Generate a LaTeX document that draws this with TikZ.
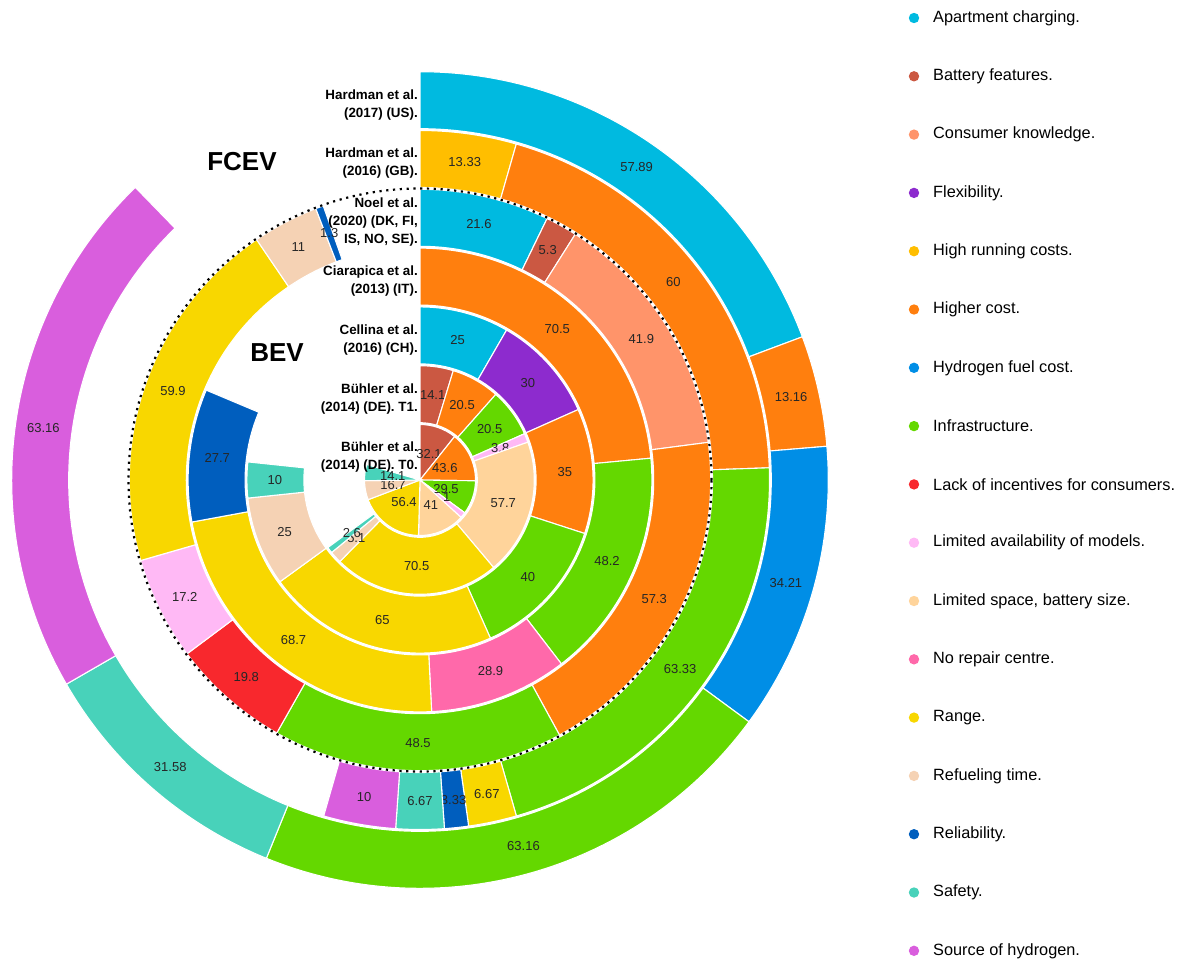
\documentclass[tikz,border=0pt]{standalone}
\usepackage{fontspec}
\setmainfont{Liberation Sans}
\definecolor{capt}{RGB}{0,186,224}
\definecolor{cbat}{RGB}{203,88,66}
\definecolor{ccons}{RGB}{255,148,106}
\definecolor{cflex}{RGB}{141,43,206}
\definecolor{crun}{RGB}{255,190,0}
\definecolor{chigh}{RGB}{255,127,14}
\definecolor{chyd}{RGB}{0,142,230}
\definecolor{cinfra}{RGB}{100,216,0}
\definecolor{clack}{RGB}{248,40,45}
\definecolor{cavail}{RGB}{255,185,245}
\definecolor{cspace}{RGB}{255,212,155}
\definecolor{crepair}{RGB}{255,105,170}
\definecolor{crange}{RGB}{248,215,0}
\definecolor{crefuel}{RGB}{245,210,180}
\definecolor{crel}{RGB}{0,94,190}
\definecolor{csafe}{RGB}{72,210,186}
\definecolor{csrc}{RGB}{217,94,221}

\begin{document}
\begin{tikzpicture}
[x=1pt,y=1pt,
seg/.style={draw=white,line width=1.1pt,line join=round},
val/.style={font=\fontsize{13}{15}\selectfont,text=black!85,inner sep=0pt},
study/.style={font=\fontsize{13.4}{18}\selectfont\bfseries,align=right,anchor=east,inner sep=0pt},
key/.style={font=\fontsize{16.3}{19}\selectfont,anchor=west,inner sep=0pt},
group/.style={font=\fontsize{26}{30}\selectfont\bfseries,inner sep=0pt}]
\useasboundingbox (-420,-482) rectangle (771,480);
\foreach \k/\lst in {
	7/{57.89/capt,13.16/chigh,34.21/chyd,63.16/cinfra,31.58/csafe,63.16/csrc},
	6/{13.33/crun,60/chigh,63.33/cinfra,6.67/crange,3.33/crel,6.67/csafe,10/csrc},
	5/{21.6/capt,5.3/cbat,41.9/ccons,57.3/chigh,48.5/cinfra,19.8/clack,17.2/cavail,59.9/crange,11/crefuel,1.3/crel},
	4/{70.5/chigh,48.2/cinfra,28.9/crepair,68.7/crange,27.7/crel},
	3/{25/capt,30/cflex,35/chigh,40/cinfra,65/crange,25/crefuel,10/csafe},
	2/{14.1/cbat,20.5/chigh,20.5/cinfra,3.8/cavail,57.7/cspace,70.5/crange,5.1/crefuel,2.6/csafe},
	1/{32.1/cbat,43.6/chigh,29.5/cinfra,5.1/cavail,41/cspace,56.4/crange,16.7/crefuel,14.1/csafe}}{
	\pgfmathsetmacro\rout{55.5+(\k-1)*58.8}
	\pgfmathsetmacro\rin{max(\rout-57,0.01)}
	\pgfmathsetmacro\rmid{\rout-28}
	\foreach \v/\c [remember=\e as \s (initially 90),evaluate=\v as \e using \s-1.2*\v,count=\i] in \lst{
		\fill[\c,seg] (\s:\rout) arc[start angle=\s,end angle=\e,radius=\rout]
			-- (\e:\rin) arc[start angle=\e,end angle=\s,radius=\rin] -- cycle;
		\node[val] (v\k-\i) at ({(\s+\e)/2}:\rmid) {\v};
	}
}
\draw[black,line width=2.2pt,dash pattern=on 2.2pt off 4.6pt] (0,0) circle[radius=291.5];
\foreach \k/\txt in {7/{Hardman et al.\\(2017) (US).},6/{Hardman et al.\\(2016) (GB).},
	5/{Noel et al.\\(2020) (DK, FI,\\IS, NO, SE).},4/{Ciarapica et al.\\(2013) (IT).},
	3/{Cellina et al.\\(2016) (CH).},2/{Bühler et al.\\(2014) (DE). T1.},1/{Bühler et al.\\(2014) (DE). T0.}}
	\node[study] (s\k) at (-2,{55.5+(\k-1)*58.8-33}) {\txt};
\node[group] (fcev) at (-178,318) {FCEV};
\node[group] (bev) at (-143,127) {BEV};
\foreach \c/\t [count=\i from 0] in {capt/Apartment charging.,cbat/Battery features.,
	ccons/Consumer knowledge.,cflex/Flexibility.,crun/High running costs.,chigh/Higher cost.,
	chyd/Hydrogen fuel cost.,cinfra/Infrastructure.,clack/Lack of incentives for consumers.,
	cavail/Limited availability of models.,cspace/{Limited space, battery size.},
	crepair/No repair centre.,crange/Range.,crefuel/Refueling time.,crel/Reliability.,
	csafe/Safety.,csrc/Source of hydrogen.}{
	\fill[\c] (494,{462-58.3*\i}) circle[radius=5.2];
	\node[key] (k\i) at (513,{462-58.3*\i}) {\t};
}
\end{tikzpicture}
\end{document}
